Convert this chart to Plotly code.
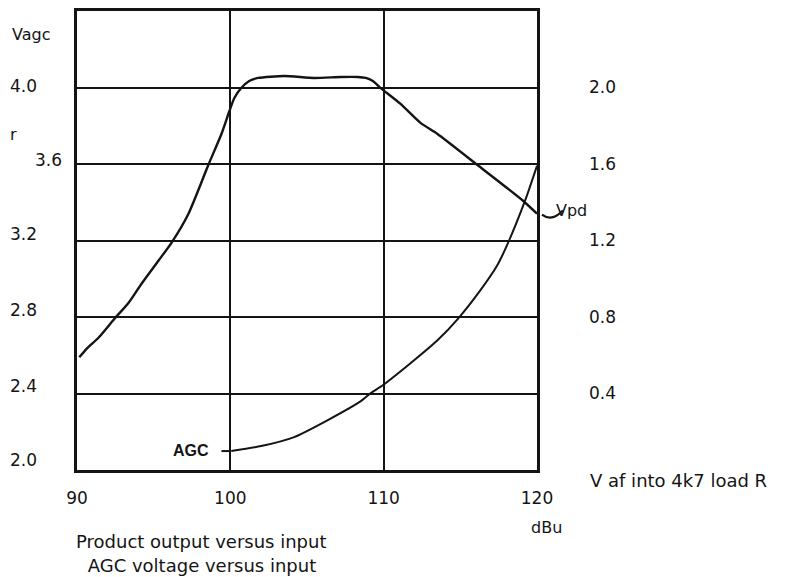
import plotly.graph_objects as go

# -------------------- data --------------------
# input level (dBu) and product output voltage (V af, right axis)
pd_dbu = [90.15, 90.65, 91.43, 92.47, 93.38, 94.22, 95.32, 96.17, 97.27, 98.57,
          99.42, 99.94, 100.26, 100.71, 101.23, 101.82, 103.51, 105.45, 107.2,
          108.31, 108.83, 109.29, 109.81, 111.10, 112.40, 113.51, 116.10, 119.09, 120.0]
pd_volts = [0.589, 0.636, 0.694, 0.793, 0.876, 0.975, 1.095, 1.189, 1.340, 1.596,
            1.757, 1.877, 1.945, 1.997, 2.034, 2.050, 2.060, 2.050, 2.055,
            2.055, 2.050, 2.034, 1.997, 1.914, 1.815, 1.757, 1.596, 1.408, 1.340]

# input level (dBu) and AGC voltage (left axis)
agc_dbu = [100.06, 102.01, 104.16, 106.36, 108.51, 109.16, 109.94, 111.75,
           113.51, 114.87, 116.30, 117.40, 118.12, 119.22, 120.0]
agc_volts = [2.099, 2.125, 2.172, 2.261, 2.360, 2.402, 2.443, 2.558,
             2.678, 2.793, 2.939, 3.069, 3.189, 3.408, 3.591]

x_ticks = [90, 100, 110, 120]
vagc_ticks = [2.0, 2.4, 2.8, 3.2, 3.6, 4.0]
vaf_ticks = [0.4, 0.8, 1.2, 1.6, 2.0]

# -------------------- styling --------------------
INK = "#141414"
FONT = "DejaVu Sans"
# pixel offsets of the hand-placed left labels (xshift, yshift)
vagc_label_offsets = [(-69, 10), (-69, 8), (-69, 7), (-69, 7), (-44, 4), (-69, 2)]

fig = go.Figure()

fig.add_trace(go.Scatter(
    x=agc_dbu, y=agc_volts, mode="lines", yaxis="y",
    line=dict(color=INK, width=2, shape="spline", smoothing=0.6),
    showlegend=False, hoverinfo="skip"))

fig.add_trace(go.Scatter(
    x=pd_dbu, y=pd_volts, mode="lines", yaxis="y2",
    line=dict(color=INK, width=2.4, shape="spline", smoothing=0.6),
    showlegend=False, hoverinfo="skip"))

# page body adds an 8px margin, so the figure is drawn 8px smaller and shifted
fig.update_layout(
    width=803, height=569,
    margin=dict(l=69, r=274, t=0, b=107),
    paper_bgcolor="white", plot_bgcolor="white",
    font=dict(family=FONT, size=17, color=INK),
    xaxis=dict(range=[90, 120], tickvals=x_ticks, showgrid=True,
               gridcolor=INK, gridwidth=1.6, showline=True, linecolor=INK,
               linewidth=2.5, mirror=True, zeroline=False, ticks="",
               ticklabelstandoff=11, tickfont=dict(size=17)),
    yaxis=dict(range=[2.0, 4.4], dtick=0.4, showgrid=True, gridcolor=INK,
               gridwidth=1.6, showline=True, linecolor=INK, linewidth=2.5,
               mirror=True, zeroline=False, ticks="", showticklabels=False),
    yaxis2=dict(range=[0, 2.4], tickvals=vaf_ticks, overlaying="y", side="right",
                showgrid=False, zeroline=False, showline=False, ticks="",
                tickformat=".1f", ticklabelstandoff=51, tickfont=dict(size=17)),
)

# left axis labels, placed by hand like the original drawing
for v, (dx, dy) in zip(vagc_ticks, vagc_label_offsets):
    fig.add_annotation(x=0, xref="paper", y=v, yref="y", text=f"{v:.1f}",
                       xanchor="left", yanchor="middle", xshift=dx, yshift=dy,
                       showarrow=False, font=dict(size=17))

texts = [
    dict(text="Vagc", x=0, y=1, xshift=-67, yshift=-23, size=16),
    dict(text="r", x=0, y=1, xshift=-69, yshift=-123, size=16),
    dict(text="V af into 4k7 load R", x=1, y=0, xshift=51, yshift=-10, size=18),
    dict(text="dBu", x=1, y=0, xshift=-8, yshift=-57, size=16),
    dict(text="Product output versus input", x=0, y=0, xshift=-3, yshift=-71, size=18),
    dict(text=" AGC voltage versus input", x=0, y=0, xshift=3, yshift=-95, size=18),
    dict(text="Vpd", x=1, y=0, xshift=17, yshift=260, size=16),
]
for t in texts:
    fig.add_annotation(x=t["x"], xref="paper", y=t["y"], yref="paper", text=t["text"],
                       xanchor="left", yanchor="middle", xshift=t["xshift"],
                       yshift=t["yshift"], showarrow=False, font=dict(size=t["size"]))

# handwritten AGC tag with its little lead line
fig.add_annotation(x=99.4, xref="x", y=2.099, yref="y", text="<b>AGC</b>",
                   xanchor="right", yanchor="middle", xshift=-10, yshift=1,
                   showarrow=False,
                   font=dict(family="Liberation Sans", size=16, color=INK))
fig.add_shape(type="line", xref="x", yref="y", x0=99.42, x1=99.98, y0=2.099, y1=2.099,
              line=dict(color=INK, width=2))

# curved hook joining the Vpd label to the end of its curve
fig.add_shape(type="path", xref="paper", yref="paper",
              path="M 1.0108 0.5565 Q 1.0325 0.5400 1.0563 0.5652",
              line=dict(color=INK, width=2.2))

fig.write_html("out.html")
